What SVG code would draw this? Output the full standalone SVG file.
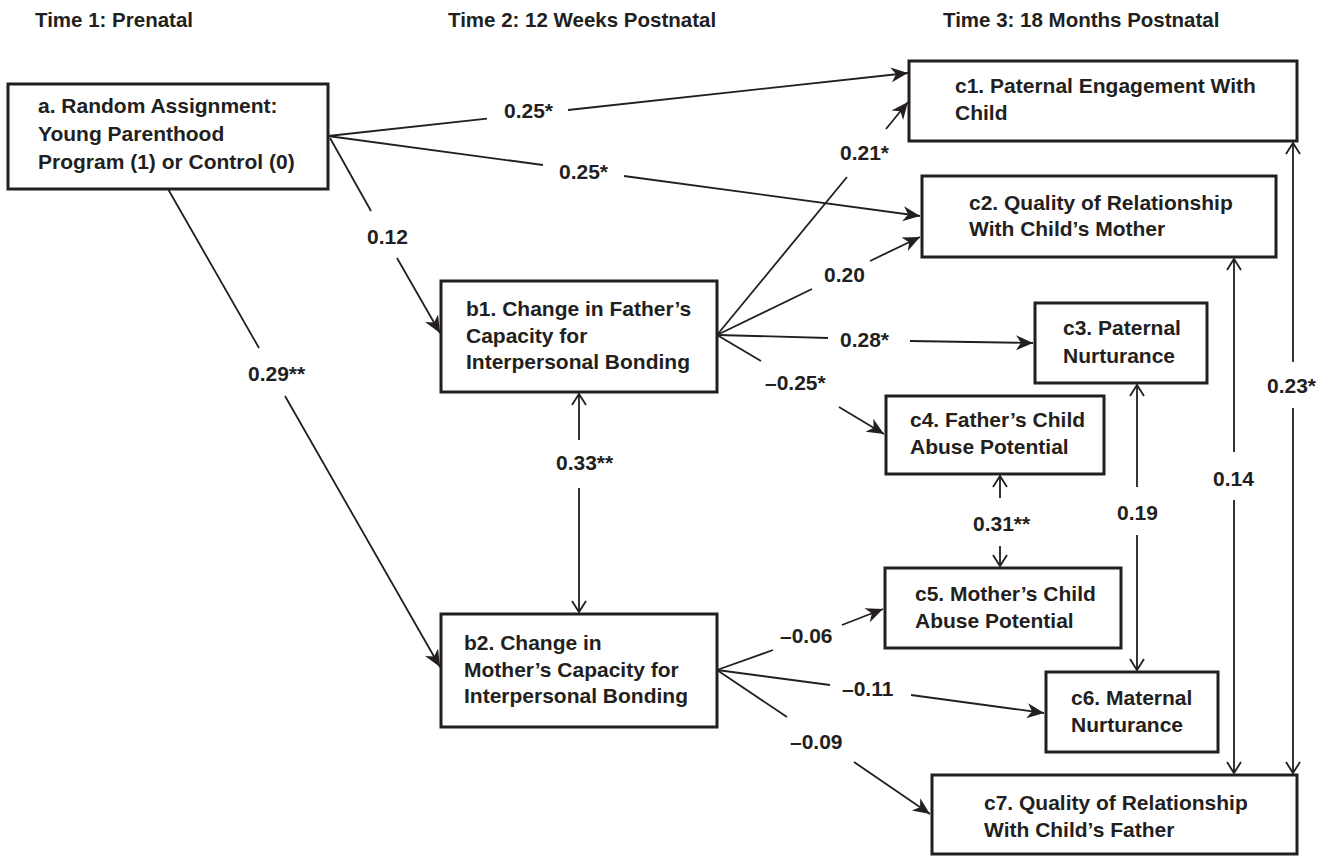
<svg xmlns="http://www.w3.org/2000/svg" width="1332" height="857" viewBox="0 0 1332 857">
<style>
text{font-family:"Liberation Sans",Arial,sans-serif;font-weight:bold;fill:#231f20}
.t{font-size:20.5px}
.n{font-size:21px}
.l{font-size:21px}
.box{fill:#fff;stroke:#231f20;stroke-width:3}
.c{stroke:#231f20;stroke-width:1.8;fill:none}
.d{marker-end:url(#arr)}
.o{marker-end:url(#open)}
</style>
<defs>
<marker id="arr" viewBox="-19 -10 21 20" refX="0" refY="0" markerWidth="21" markerHeight="20" markerUnits="userSpaceOnUse" orient="auto">
<path d="M0,0 L-17,-7.5 L-12,0 L-17,7.5 Z" fill="#231f20"/>
</marker>
<marker id="open" viewBox="-14 -10 16 20" refX="0" refY="0" markerWidth="16" markerHeight="20" markerUnits="userSpaceOnUse" orient="auto">
<path d="M-11,-7 L0,0 L-11,7" fill="none" stroke="#231f20" stroke-width="1.8"/>
</marker>
</defs>
<rect width="1332" height="857" fill="#fff"/>
<g id="titles">
<text class="t" x="35" y="27">Time 1: Prenatal</text>
<text class="t" x="448" y="27">Time 2: 12 Weeks Postnatal</text>
<text class="t" x="943" y="27">Time 3: 18 Months Postnatal</text>
</g>
<g id="connectors">
<line class="c" x1="328" y1="136" x2="487" y2="118.7"/><line class="c d" x1="568" y1="110" x2="908" y2="73"/>
<line class="c" x1="328" y1="136" x2="543" y2="165"/><line class="c d" x1="624" y1="176" x2="920" y2="216"/>
<line class="c" x1="330" y1="138" x2="371" y2="211"/><line class="c d" x1="397" y1="258" x2="440" y2="333"/>
<line class="c" x1="168" y1="189" x2="259" y2="348"/><line class="c d" x1="285" y1="396" x2="440" y2="667"/>
<line class="c" x1="717" y1="335" x2="847" y2="177"/><line class="c d" x1="886" y1="129" x2="908" y2="102"/>
<line class="c" x1="717" y1="335" x2="812" y2="289"/><line class="c d" x1="870" y1="261" x2="920" y2="237"/>
<line class="c" x1="717" y1="335" x2="828" y2="338"/><line class="c d" x1="910" y1="341" x2="1033" y2="343"/>
<line class="c" x1="717" y1="335" x2="761" y2="361"/><line class="c d" x1="839" y1="407" x2="884" y2="434"/>
<line class="c" x1="717" y1="670" x2="773" y2="650"/><line class="c d" x1="842" y1="625" x2="883" y2="609"/>
<line class="c" x1="717" y1="670" x2="830" y2="685"/><line class="c d" x1="911" y1="695" x2="1044" y2="713"/>
<line class="c" x1="717" y1="670" x2="787" y2="717"/><line class="c d" x1="854" y1="762" x2="930" y2="814"/>
<line class="c o" x1="579" y1="440" x2="579" y2="394"/><line class="c o" x1="579" y1="488" x2="579" y2="612"/>
<line class="c o" x1="1000" y1="498" x2="1000" y2="476"/><line class="c o" x1="1000" y1="546" x2="1000" y2="566"/>
<line class="c o" x1="1137" y1="487" x2="1137" y2="385"/><line class="c o" x1="1137" y1="535" x2="1137" y2="670"/>
<line class="c o" x1="1234" y1="452" x2="1234" y2="259"/><line class="c o" x1="1234" y1="500" x2="1234" y2="773"/>
<line class="c o" x1="1293" y1="362" x2="1293" y2="143"/><line class="c o" x1="1293" y1="408" x2="1293" y2="773"/>
</g>
<g id="labels">
<text class="l" x="504" y="118">0.25*</text>
<text class="l" x="559" y="179">0.25*</text>
<text class="l" x="367" y="244">0.12</text>
<text class="l" x="248" y="381">0.29**</text>
<text class="l" x="840" y="160">0.21*</text>
<text class="l" x="824" y="282">0.20</text>
<text class="l" x="840" y="347">0.28*</text>
<text class="l" x="765" y="390">–0.25*</text>
<text class="l" x="556" y="470">0.33**</text>
<text class="l" x="973" y="531">0.31**</text>
<text class="l" x="1117" y="520">0.19</text>
<text class="l" x="1213" y="486">0.14</text>
<text class="l" x="1267" y="393">0.23*</text>
<text class="l" x="780" y="643">–0.06</text>
<text class="l" x="842" y="696">–0.11</text>
<text class="l" x="790" y="749">–0.09</text>
</g>
<g id="node-a"><rect class="box" x="8" y="84" width="320" height="105"/>
<text class="n" x="38" y="113">a. Random Assignment:</text>
<text class="n" x="38" y="141">Young Parenthood</text>
<text class="n" x="38" y="169">Program (1) or Control (0)</text></g>
<g id="node-b1"><rect class="box" x="441" y="281" width="276" height="111"/>
<text class="n" x="466" y="316">b1. Change in Father’s</text>
<text class="n" x="466" y="343">Capacity for</text>
<text class="n" x="466" y="369">Interpersonal Bonding</text></g>
<g id="node-b2"><rect class="box" x="441" y="614" width="276" height="113"/>
<text class="n" x="464" y="650">b2. Change in</text>
<text class="n" x="464" y="677">Mother’s Capacity for</text>
<text class="n" x="464" y="703">Interpersonal Bonding</text></g>
<g id="node-c1"><rect class="box" x="909" y="61" width="388" height="80"/>
<text class="n" x="955" y="93">c1. Paternal Engagement With</text>
<text class="n" x="955" y="120">Child</text></g>
<g id="node-c2"><rect class="box" x="922" y="176" width="354" height="81"/>
<text class="n" x="969" y="210">c2. Quality of Relationship</text>
<text class="n" x="969" y="236">With Child’s Mother</text></g>
<g id="node-c3"><rect class="box" x="1035" y="303" width="172" height="80"/>
<text class="n" x="1063" y="335">c3. Paternal</text>
<text class="n" x="1063" y="363">Nurturance</text></g>
<g id="node-c4"><rect class="box" x="886" y="396" width="218" height="78"/>
<text class="n" x="910" y="427">c4. Father’s Child</text>
<text class="n" x="910" y="454">Abuse Potential</text></g>
<g id="node-c5"><rect class="box" x="885" y="568" width="236" height="80"/>
<text class="n" x="915" y="601">c5. Mother’s Child</text>
<text class="n" x="915" y="628">Abuse Potential</text></g>
<g id="node-c6"><rect class="box" x="1046" y="672" width="172" height="80"/>
<text class="n" x="1071" y="705">c6. Maternal</text>
<text class="n" x="1071" y="732">Nurturance</text></g>
<g id="node-c7"><rect class="box" x="932" y="775" width="365" height="79"/>
<text class="n" x="984" y="810">c7. Quality of Relationship</text>
<text class="n" x="984" y="837">With Child’s Father</text></g>
</svg>
